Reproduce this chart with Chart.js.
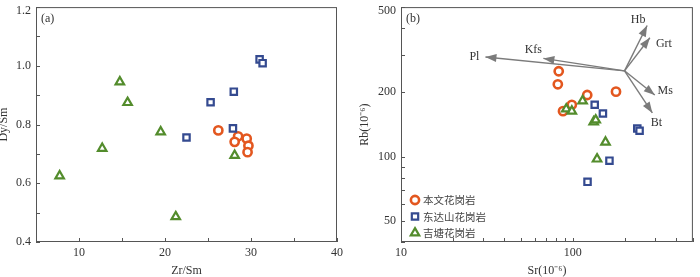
<!DOCTYPE html>
<html>
<head>
<meta charset="utf-8">
<script src="https://cdn.jsdelivr.net/npm/chart.js@4"></script>
<style>
  body { margin: 0; background: #fff; }
  canvas { position: absolute; top: 0; }
</style>
</head>
<body>
<canvas id="chart-a" width="350" height="277" style="left:0"></canvas>
<canvas id="chart-b" width="350" height="277" style="left:350px"></canvas>
<script>
const seriesNames = ['本文花岗岩', '东达山花岗岩', '吉塘花岗岩'];

// (a) Zr/Sm vs Dy/Sm
const benwenZrSm = [26.2, 28.5, 29.5, 28.1, 29.7, 29.6];
const benwenDySm = [0.78, 0.76, 0.752, 0.741, 0.728, 0.706];
const dongdaZrSm = [31.0, 31.35, 25.3, 28.0, 27.9, 22.5];
const dongdaDySm = [1.022, 1.009, 0.876, 0.912, 0.787, 0.756];
const jitangZrSm = [14.75, 15.65, 19.5, 12.7, 7.75, 21.25, 28.1];
const jitangDySm = [0.945, 0.875, 0.775, 0.719, 0.625, 0.486, 0.695];

// (b) Sr vs Rb (10^-6)
const benwenSr = [82.8, 81.8, 121.3, 178.4, 98.7, 87.7];
const benwenRb = [250.9, 218, 194.3, 201.4, 174.9, 163.3];
const dongdaSr = [134.1, 149.7, 237.3, 244.7, 163.4, 121.8];
const dongdaRb = [174.9, 159.2, 135.6, 132.3, 95.9, 76.4];
const jitangSr = [91.6, 98.7, 114, 132.3, 135.9, 155, 138.4];
const jitangRb = [167.2, 163.3, 182.4, 145.4, 148.5, 117, 97.6];

// mineral fractionation vectors
const vectorNames = ['Pl', 'Kfs', 'Hb', 'Grt', 'Ms', 'Bt'];
const vectorOriginSr = 200;
const vectorOriginRb = 252;
const vectorSr = [31, 67.4, 270.8, 280.9, 300, 290.4];
const vectorRb = [292.5, 288, 410, 359.6, 194.3, 160.3];

// ticks and tick labels
const zrSmTicks = [5, 10, 15, 20, 25, 30, 35, 40];
const zrSmLabels = [10, 20, 30, 40];
const dySmTicks = [0.4, 0.5, 0.6, 0.7, 0.8, 0.9, 1.0, 1.1, 1.2];
const dySmLabels = [0.4, 0.6, 0.8, 1.0, 1.2];
const srTicks = [10, 20, 30, 40, 50, 60, 70, 80, 90, 100, 200, 300, 400, 500];
const srLabels = [10, 100];
const rbTicks = [40, 50, 60, 70, 80, 90, 100, 200, 300, 400, 500];
const rbLabels = [50, 100, 200, 500];

const textColor = '#333';
const serif = '"Liberation Serif", "Times New Roman", serif';
const tickFont = {family: serif, size: 12, lineHeight: 1};
const yTickFont = {family: serif, size: 12, lineHeight: 0.6};
const markerStyles = [
    {pointStyle: 'circle', radius: 4.1, borderWidth: 2.6, color: '#e3571f'},
    {pointStyle: 'rect', radius: 4.5, borderWidth: 2.2, color: '#344a90'},
    {pointStyle: 'triangle', radius: 4.9, borderWidth: 2.2, color: '#538c2c'}
];

function points(xs, ys) {
    return xs.map((x, i) => ({x: x, y: ys[i]}));
}

function seriesDataset(i, xs, ys) {
    const s = markerStyles[i];
    return {
        label: seriesNames[i],
        data: points(xs, ys),
        pointStyle: s.pointStyle,
        pointRadius: s.radius,
        pointBorderWidth: s.borderWidth,
        pointBorderColor: s.color,
        pointBackgroundColor: '#fff',
        order: 3 - i
    };
}

// top label pushed down a little so it is not cut by the canvas edge
function label(v, text, top) {
    return v === top ? ['', text] : text;
}

function axis(opts) {
    return Object.assign({
        grid: {display: false, drawTicks: false},
        border: {display: false}
    }, opts);
}

// box around the plot, inward tick marks, panel letter
const framePlugin = {
    id: 'frame',
    afterDraw(chart, args, opts) {
        const {ctx, chartArea: a, scales} = chart;
        ctx.save();
        ctx.strokeStyle = '#555';
        ctx.lineWidth = 1;
        ctx.strokeRect(a.left + 0.5, a.top + 0.5, a.right - a.left - 1, a.bottom - a.top - 1);
        ctx.beginPath();
        scales.x.ticks.forEach(t => {
            const px = Math.round(scales.x.getPixelForValue(t.value)) + 0.5;
            ctx.moveTo(px, a.bottom);
            ctx.lineTo(px, a.bottom - 4);
        });
        scales.y.ticks.forEach(t => {
            const py = Math.round(scales.y.getPixelForValue(t.value)) + 0.5;
            ctx.moveTo(a.left, py);
            ctx.lineTo(a.left + 4, py);
        });
        ctx.stroke();
        ctx.fillStyle = textColor;
        ctx.font = '12px ' + serif;
        ctx.textBaseline = 'middle';
        ctx.fillText(opts.text, a.left + 5, a.top + 12);
        ctx.restore();
    }
};

const chartA = new Chart(document.getElementById('chart-a').getContext('2d'), {
    type: 'scatter',
    data: {
        datasets: [
            seriesDataset(0, benwenZrSm, benwenDySm),
            seriesDataset(1, dongdaZrSm, dongdaDySm),
            seriesDataset(2, jitangZrSm, jitangDySm)
        ]
    },
    options: {
        responsive: false,
        animation: false,
        events: [],
        layout: {padding: {top: 1, right: 13, left: 0, bottom: 0}},
        plugins: {legend: {display: false}, tooltip: {enabled: false}, frame: {text: '(a)'}},
        scales: {
            x: axis({
                type: 'linear', min: 5, max: 40,
                afterBuildTicks: s => { s.ticks = zrSmTicks.map(v => ({value: v})); },
                afterFit: s => { s.height = 35; s.paddingLeft = 0; s.paddingRight = 0; },
                ticks: {autoSkip: false, maxRotation: 0, padding: 5, color: textColor, font: tickFont,
                    callback: v => zrSmLabels.includes(v) ? String(v) : ''},
                title: {display: true, text: 'Zr/Sm', color: textColor, font: tickFont, padding: {top: 0, bottom: 0}}
            }),
            y: axis({
                type: 'linear', min: 0.4, max: 1.2,
                afterBuildTicks: s => { s.ticks = dySmTicks.map(v => ({value: v})); },
                afterFit: s => { s.width = 36; s.paddingTop = 0; s.paddingBottom = 0; },
                ticks: {autoSkip: false, padding: 5, color: textColor, font: yTickFont,
                    callback: v => dySmLabels.includes(v) ? label(v, v.toFixed(1), 1.2) : ''},
                title: {display: true, text: 'Dy/Sm', color: textColor, font: tickFont, padding: {top: -2, bottom: 0}}
            })
        }
    },
    plugins: [framePlugin]
});

// arrow heads + mineral names, and the legend drawn inside panel (b)
const vectorPlugin = {
    id: 'vectors',
    afterDatasetsDraw(chart, args, opts) {
        const ctx = chart.ctx;
        ctx.save();
        chart.data.datasets.forEach((ds, i) => {
            if (!ds.vectorName) return;
            const [p0, p1] = chart.getDatasetMeta(i).data;
            const ang = Math.atan2(p1.y - p0.y, p1.x - p0.x);
            ctx.fillStyle = ds.borderColor;
            ctx.beginPath();
            ctx.moveTo(p1.x, p1.y);
            ctx.lineTo(p1.x - 11 * Math.cos(ang) + 4 * Math.sin(ang), p1.y - 11 * Math.sin(ang) - 4 * Math.cos(ang));
            ctx.lineTo(p1.x - 11 * Math.cos(ang) - 4 * Math.sin(ang), p1.y - 11 * Math.sin(ang) + 4 * Math.cos(ang));
            ctx.closePath();
            ctx.fill();
            const off = opts.labelOffsets[ds.vectorName];
            ctx.fillStyle = textColor;
            ctx.font = '12px ' + serif;
            ctx.textAlign = 'center';
            ctx.textBaseline = 'middle';
            ctx.fillText(ds.vectorName, p1.x + off[0], p1.y + off[1]);
        });

        ctx.textAlign = 'left';
        ctx.font = '10.5px "Noto Sans CJK SC", sans-serif';
        seriesNames.forEach((name, i) => {
            const s = markerStyles[i];
            const y = opts.legendTop + i * 16.5;
            ctx.strokeStyle = s.color;
            ctx.fillStyle = '#fff';
            ctx.lineWidth = s.borderWidth;
            Chart.helpers.drawPoint(ctx, {pointStyle: s.pointStyle, radius: s.radius, borderWidth: s.borderWidth, rotation: 0}, opts.legendLeft, y);
            ctx.fillStyle = '#444';
            ctx.fillText(name, opts.legendLeft + 8, y + 0.5);
        });
        ctx.restore();
    }
};

const vectorDatasets = vectorNames.map((name, i) => ({
    vectorName: name,
    data: [{x: vectorOriginSr, y: vectorOriginRb}, {x: vectorSr[i], y: vectorRb[i]}],
    showLine: true,
    borderColor: '#7b7b7b',
    borderWidth: 1.4,
    pointRadius: 0,
    order: 10
}));

const chartB = new Chart(document.getElementById('chart-b').getContext('2d'), {
    type: 'scatter',
    data: {
        datasets: [
            seriesDataset(0, benwenSr, benwenRb),
            seriesDataset(1, dongdaSr, dongdaRb),
            seriesDataset(2, jitangSr, jitangRb)
        ].concat(vectorDatasets)
    },
    options: {
        responsive: false,
        animation: false,
        events: [],
        layout: {padding: {top: 1, right: 2, left: 0, bottom: 0}},
        plugins: {
            legend: {display: false},
            tooltip: {enabled: false},
            frame: {text: '(b)'},
            vectors: {
                legendLeft: 65,
                legendTop: 200,
                labelOffsets: {Pl: [-11, 0], Kfs: [-10, -9], Hb: [-9, -5.5], Grt: [14, 6], Ms: [10.5, -4.4], Bt: [4, 10]}
            }
        },
        scales: {
            x: axis({
                type: 'logarithmic', min: 10, max: 500,
                afterBuildTicks: s => { s.ticks = srTicks.map(v => ({value: v})); },
                afterFit: s => { s.height = 35; s.paddingLeft = 0; s.paddingRight = 0; },
                ticks: {autoSkip: false, maxRotation: 0, padding: 5, color: textColor, font: tickFont,
                    callback: v => srLabels.includes(v) ? String(v) : ''},
                title: {display: true, text: 'Sr(10⁻⁶)', color: textColor, font: tickFont, padding: {top: 0, bottom: 0}}
            }),
            y: axis({
                type: 'logarithmic', min: 40, max: 500,
                afterBuildTicks: s => { s.ticks = rbTicks.map(v => ({value: v})); },
                afterFit: s => { s.width = 51; s.paddingTop = 0; s.paddingBottom = 0; },
                ticks: {autoSkip: false, padding: 5, color: textColor, font: yTickFont,
                    callback: v => rbLabels.includes(v) ? label(v, String(v), 500) : ''},
                title: {display: true, text: 'Rb(10⁻⁶)', color: textColor, font: tickFont, padding: {top: 9, bottom: 0}}
            })
        }
    },
    plugins: [framePlugin, vectorPlugin]
});
</script>
</body>
</html>
